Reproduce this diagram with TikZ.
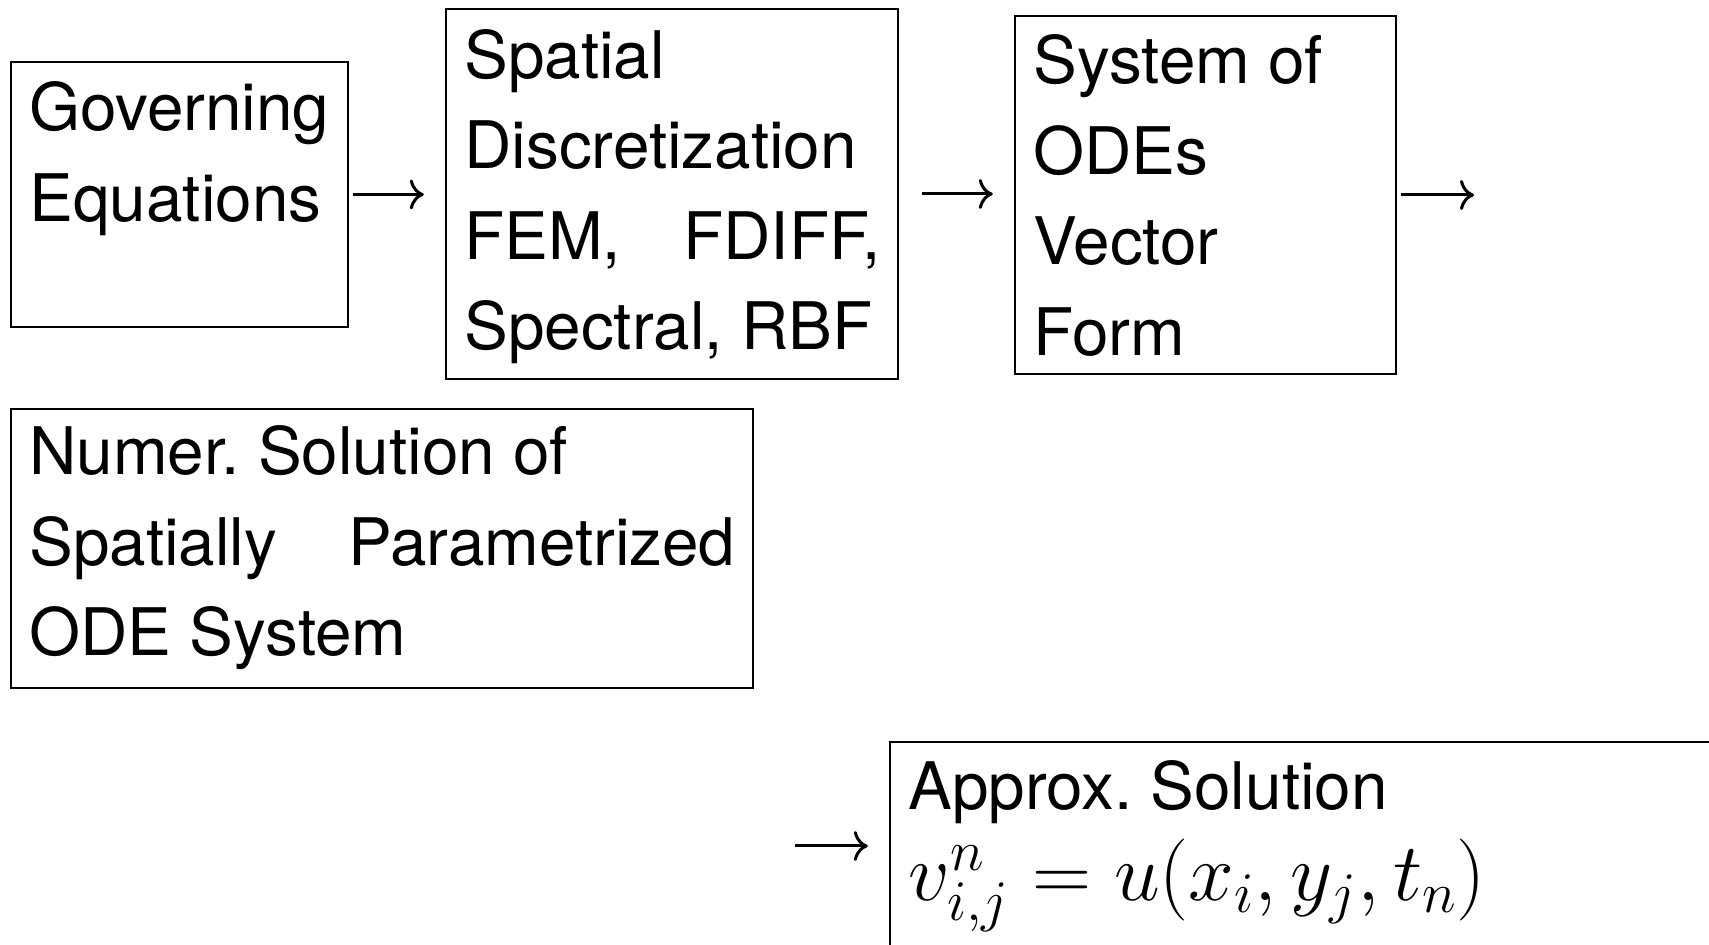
\RequirePackage{fix-cm}
\documentclass[tikz,border=0pt]{standalone}
\usepackage{fontspec}
\setmainfont{TeX Gyre Heros}
\usetikzlibrary{arrows.meta,fit}
\frenchspacing
\begin{document}
\begin{tikzpicture}[x=0.5pt,y=-0.5pt,
  box/.style={draw,line width=1.2pt,inner sep=0pt},
  txt/.style={anchor=base west,inner sep=0pt,font=\fontsize{32.8}{45.25}\selectfont},
  conn/.style={line width=1.5pt,-{Computer Modern Rightarrow[length=7pt,width=15pt]}}]
\clip (0,0) rectangle (1709,945);
% boxes
\node[box, fit={(11,62) (348,327)}] (b1) {};
\node[box, fit={(446,9) (898,379)}] (b2) {};
\node[box, fit={(1015,16) (1396,374)}] (b3) {};
\node[box, fit={(11,409) (753,688)}] (b4) {};
\node[box, fit={(890,742) (1725,960)}] (b5) {};
% texts
\node[txt] (t1) at (29,131) {\parbox[t]{150.5pt}{Governing\\Equations}};
\node[txt] (t2) at (464,78.5) {\parbox[t]{208pt}{Spatial\\Discretization\\\makebox[\linewidth][s]{FEM, FDIFF,}\\Spectral, RBF}};
\node[txt] (t3) at (1033,84) {\parbox[t]{172.5pt}{System of\\ODEs\\Vector\\Form}};
\node[txt] (t4) at (29,475) {\parbox[t]{353pt}{Numer. Solution of\\\makebox[\linewidth][s]{Spatially Parametrized}\\ODE System}};
\node[txt] (t5) at (908,810) {\parbox[t]{290pt}{Approx. Solution\\{\fontsize{41}{48}\selectfont$v^n_{i,j}=u(x_i,y_j,t_n)$}}};
% connectors
\coordinate (e3) at (1474,196);
\coordinate (s4) at (795,846);
\draw[conn, shorten <=2pt, shorten >=10.5pt] (b1.east) -- (b1.east -| b2.west);
\draw[conn, shorten <=11.5pt, shorten >=10.5pt] (b2.east) -- (b2.east -| b3.west);
\draw[conn, shorten <=2pt] (b3.east) -- (b3.east -| e3);
\draw[conn, shorten >=10.5pt] (s4) -- (s4 -| b5.west);
\end{tikzpicture}
\end{document}
